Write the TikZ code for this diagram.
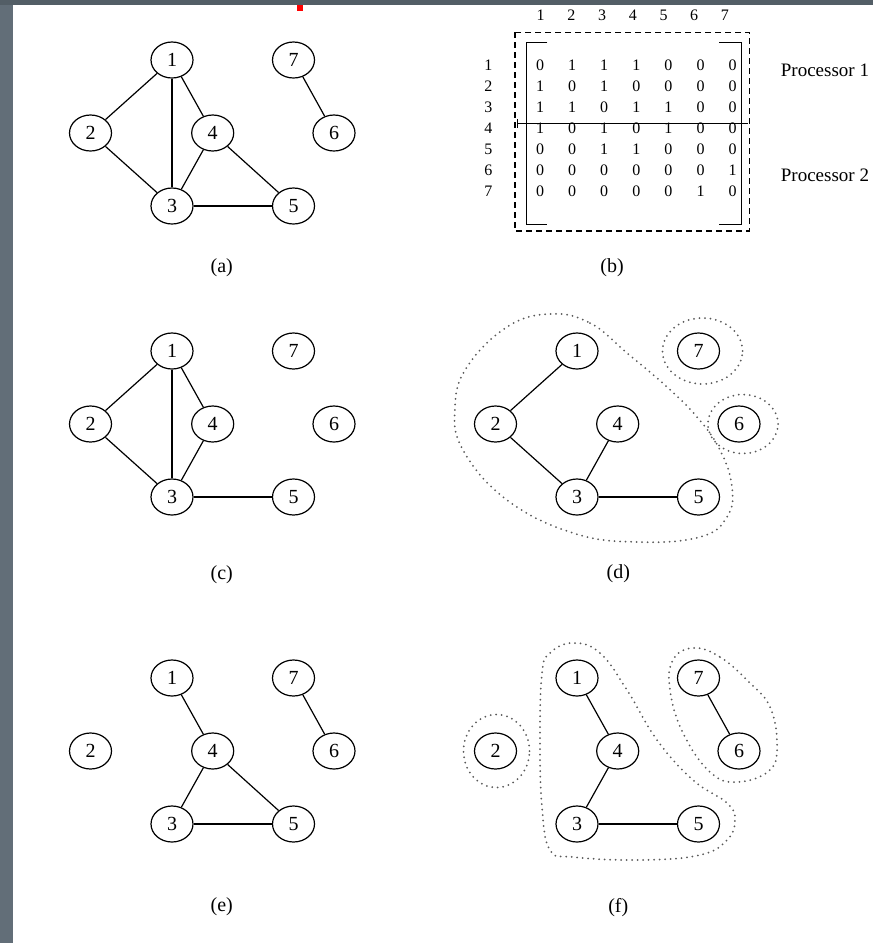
\documentclass[tikz,border=0pt]{standalone}
\usepackage{fontspec}
\setmainfont{Liberation Serif}
\usetikzlibrary{shapes.geometric}
\definecolor{barcol}{RGB}{98,110,120}

\begin{document}
\begin{tikzpicture}[x=1pt,y=-1pt,
    vtx/.style={draw, ellipse, minimum width=42pt, minimum height=36pt, inner sep=0pt, line width=1.2pt, font=\fontsize{20}{20}\selectfont},
    edge/.style={line width=1.2pt},
    part/.style={draw=black!65, line width=2pt, dash pattern=on 0pt off 5.5pt, line cap=round},
    cell/.style={font=\fontsize{16}{16}\selectfont, inner sep=0pt},
    subcap/.style={font=\fontsize{20}{20}\selectfont}]
  \useasboundingbox (0,0) rectangle (873,943);
  % window edges
  \fill[barcol] (0,0) rectangle (13,943);
  \fill[barcol!85!black] (0,0) rectangle (873,5);
  \fill[red] (297,5) rectangle (303,11);
  % Draw nodes of the five graphs
  \foreach \p/\dx/\dy in {a/0/0, c/0/291, e/0/618, d/405/291, f/405/618}
    \foreach \n/\x/\y in {1/172/60, 2/90.5/133, 3/172/206, 4/212.7/133, 5/293.5/206, 6/334/133, 7/293.5/60}
      \node[vtx] (\p\n) at (\x+\dx,\y+\dy) {\n};
  % Draw edges
  \foreach \u/\v in {1/2,1/3,1/4,2/3,3/4,4/5,3/5,7/6}
    \draw[edge] (a\u) -- (a\v);
  \foreach \u/\v in {1/2,1/3,1/4,2/3,3/4,3/5}
    \draw[edge] (c\u) -- (c\v);
  \foreach \u/\v in {1/2,2/3,3/4,3/5}
    \draw[edge] (d\u) -- (d\v);
  \foreach \u/\v in {1/4,3/4,4/5,3/5,7/6}
    \draw[edge] (e\u) -- (e\v);
  \foreach \u/\v in {1/4,3/4,3/5,7/6}
    \draw[edge] (f\u) -- (f\v);
  % Parts in (d)
  \draw[part] plot[smooth cycle, tension=0.7] coordinates {(550,314) (590,323) (627,353)
    (667,387) (697,417) (720,450) (732,487) (727,517) (700,537) (637,542) (573,533)
    (507,500) (463,450) (455,407) (467,367) (507,327)};
  \draw[part] ([xshift=4pt]d7.center) ellipse [x radius=40pt, y radius=33pt];
  \draw[part] ([xshift=4pt]d6.center) ellipse [x radius=35pt, y radius=29.5pt];
  % Parts in (f)
  \draw[part] ([xshift=1pt]f2.center) ellipse [x radius=33pt, y radius=36.5pt];
  \draw[part] plot[smooth cycle, tension=0.7] coordinates {(573,643) (600,653) (627,690)
    (657,740) (693,780) (727,803) (735,820) (727,840) (700,855) (640,860) (573,857)
    (550,850) (542,807) (540,740) (542,673) (550,653)};
  \draw[part] plot[smooth cycle, tension=0.7] coordinates {(693,648) (720,657) (750,683)
    (770,707) (777,743) (770,770) (737,782) (710,772) (683,733) (670,690) (673,660)};
  % Matrix (b)
  \draw[line width=1.2pt, dash pattern=on 6pt off 4pt] (515,32.3) rectangle (749.3,231);
  \draw[line width=1.3pt] (547.3,42.3) -| (526.7,224.3) -- (547.3,224.3);
  \draw[line width=1.3pt] (719.3,42.3) -| (741.7,224.3) -- (719.3,224.3);
  \draw[|-, line width=1.2pt] (516.7,123.3) -- (748.3,123.3);
  \foreach \c in {1,...,7}
    \node[cell] (col\c) at ({540.7+30.7*(\c-1)},15) {\c};
  \foreach \row [count=\r] in {{0,1,1,1,0,0,0},{1,0,1,0,0,0,0},{1,1,0,1,1,0,0},
      {1,0,1,0,1,0,0},{0,0,1,1,0,0,0},{0,0,0,0,0,0,1},{0,0,0,0,0,1,0}} {
    \node[cell] (row\r) at (488.3,{65+21.1*(\r-1)}) {\r};
    \foreach \e [count=\c] in \row
      \node[cell] (m\r\c) at ({540+32.1*(\c-1)},{65+21.1*(\r-1)}) {\e};
  }
  \node[cell, anchor=west, font=\fontsize{19}{19}\selectfont] (proc1) at (780.7,70.7) {Processor 1};
  \node[cell, anchor=west, font=\fontsize{19}{19}\selectfont] (proc2) at (780.7,175) {Processor 2};
  % Captions
  \node[subcap] (capa) at (221.7,268) {(a)};
  \node[subcap] (capb) at (612,268) {(b)};
  \node[subcap] (capc) at (221.7,575) {(c)};
  \node[subcap] (capd) at (618.3,574) {(d)};
  \node[subcap] (cape) at (221.7,907) {(e)};
  \node[subcap] (capf) at (618.3,908) {(f)};
\end{tikzpicture}
\end{document}
